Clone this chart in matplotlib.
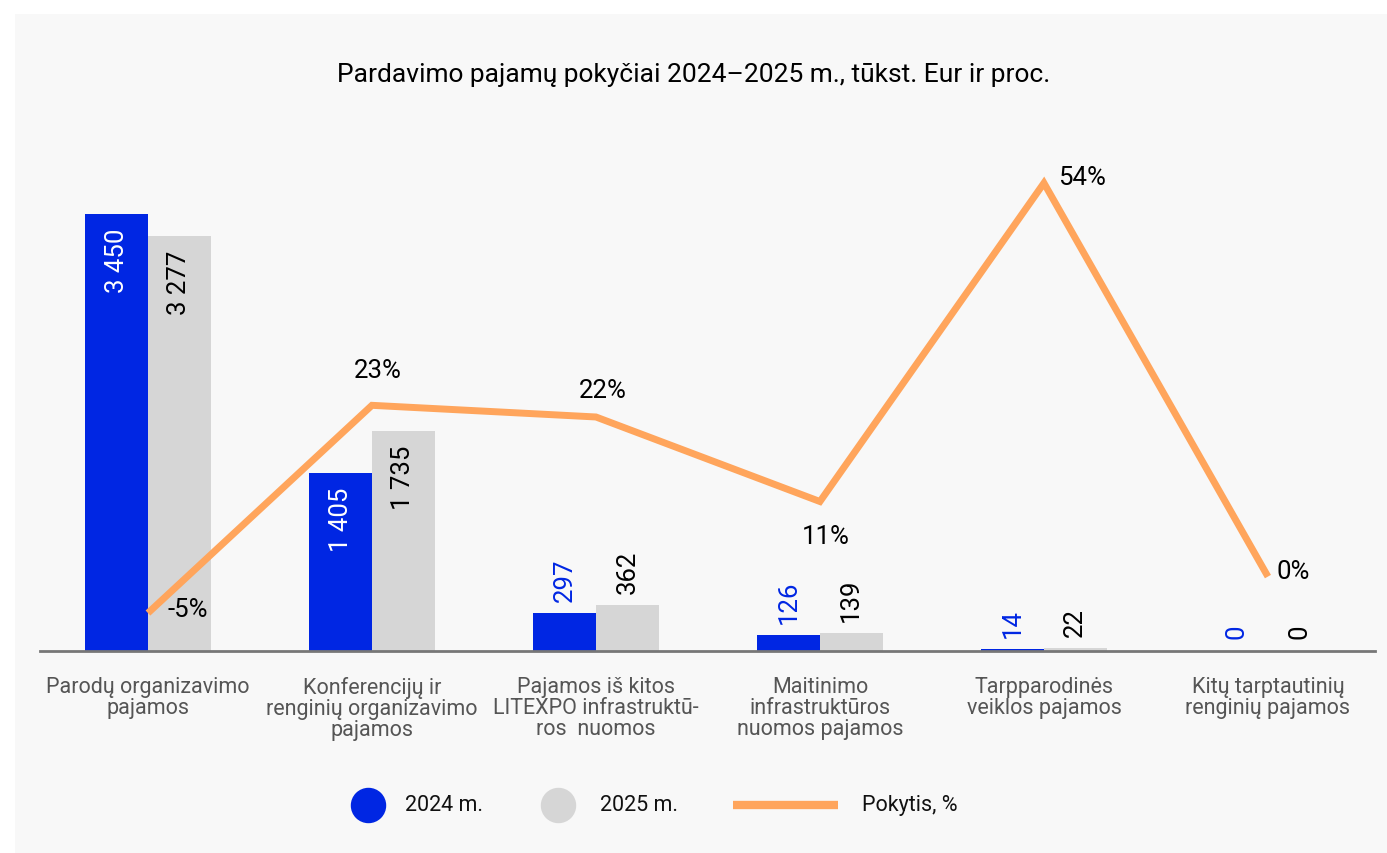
import numpy as np
import matplotlib.pyplot as plt
from matplotlib.patches import Rectangle
from matplotlib.lines import Line2D

plt.rcParams['font.family'] = ['Roboto', 'DejaVu Sans']

categories = ["Parodų organizavimo\npajamos",
              "Konferencijų ir\nrenginių organizavimo\npajamos",
              "Pajamos iš kitos\nLITEXPO infrastruktū-\nros  nuomos",
              "Maitinimo\ninfrastruktūros\nnuomos pajamos",
              "Tarpparodinės\nveiklos pajamos",
              "Kitų tarptautinių\nrenginių pajamos"]
v2024 = [3450, 1405, 297, 126, 14, 0]
v2025 = [3277, 1735, 362, 139, 22, 0]
change = [-5.0, 23.5, 21.9, 10.3, 54.0, 0.0]
change_labels = ["-5%", "23%", "22%", "11%", "54%", "0%"]
legend_labels = ["2024 m.", "2025 m.", "Pokytis, %"]

blue = "#0026e3"
grey = "#d6d6d6"
orange = "#ffa55c"

W, H = 1387, 854
fig = plt.figure(figsize=(W / 100, H / 100), dpi=100, facecolor="white")
fig.patches.append(Rectangle((15 / W, 0), 1, 1 - 15 / H, transform=fig.transFigure,
                             facecolor="#f8f8f8", edgecolor="none", zorder=-10))
ax = fig.add_axes([40 / W, 202 / H, 1335 / W, 502 / H])
ax.set_facecolor("none")

x = np.arange(len(categories))
w = 0.28
b1 = ax.bar(x - w / 2, v2024, w, color=blue)
b2 = ax.bar(x + w / 2, v2025, w, color=grey)
ax.set_xlim(-0.482, 5.478)
ax.set_ylim(0, 3962)

def fmt(v):
    return f"{v:,}".replace(",", " ")

for bars, vals, incol, outcol in [(b1, v2024, "white", blue), (b2, v2025, "black", "black")]:
    for bar, v in zip(bars, vals):
        cx = bar.get_x() + bar.get_width() / 2
        if v > 1000:
            ax.annotate(fmt(v), (cx, v), xytext=(0, -10), textcoords="offset points",
                        rotation=90, ha="center", va="top", fontsize=18.5, color=incol)
        else:
            ax.annotate(fmt(v), (cx, v), xytext=(0, 9), textcoords="offset points",
                        rotation=90, ha="center", va="bottom", fontsize=18.5, color=outcol)

for s in ["top", "left", "right"]:
    ax.spines[s].set_visible(False)
ax.spines["bottom"].set_color("#777777")
ax.spines["bottom"].set_linewidth(2)
ax.set_yticks([])
ax.set_xticks(x)
ax.set_xticklabels(categories, fontsize=15.5, color="#555555", linespacing=1.0)
ax.tick_params(axis="x", length=0, pad=18)

ax2 = ax.twinx()
ax2.set_ylim(-10.21, 58.67)
ax2.axis("off")
ax2.plot(x, change, color=orange, lw=5, solid_joinstyle="miter", solid_capstyle="butt")
offsets = [(14, 3, "left", "center"), (4, 17, "center", "bottom"), (5, 11, "center", "bottom"),
           (4, -16, "center", "top"), (10, 4, "left", "center"), (6.5, 4, "left", "center")]
for xi, c, lab, (dx, dy, ha, va) in zip(x, change, change_labels, offsets):
    ax2.annotate(lab, (xi, c), xytext=(dx, dy), textcoords="offset points",
                 ha=ha, va=va, fontsize=18.5, color="black")

fig.text(0.5, 1 - 75 / H, "Pardavimo pajamų pokyčiai 2024–2025 m., tūkst. Eur ir proc.",
         ha="center", va="center", fontsize=19, color="black")

# legend drawn by hand to keep the original spacing
ly = 1 - 806 / H
fig.add_artist(Line2D([368 / W], [ly], marker="o", markersize=24.5, color=blue, ls="none"))
fig.add_artist(Line2D([558 / W], [ly], marker="o", markersize=24.5, color=grey, ls="none"))
fig.add_artist(Line2D([733 / W, 838 / W], [ly, ly], color=orange, lw=6, solid_capstyle="butt"))
for tx, lab in zip([405, 600, 862], legend_labels):
    fig.text(tx / W, ly, lab, ha="left", va="center", fontsize=15.5, color="#111111")

fig.savefig("out.png", dpi=100, facecolor=fig.get_facecolor())
